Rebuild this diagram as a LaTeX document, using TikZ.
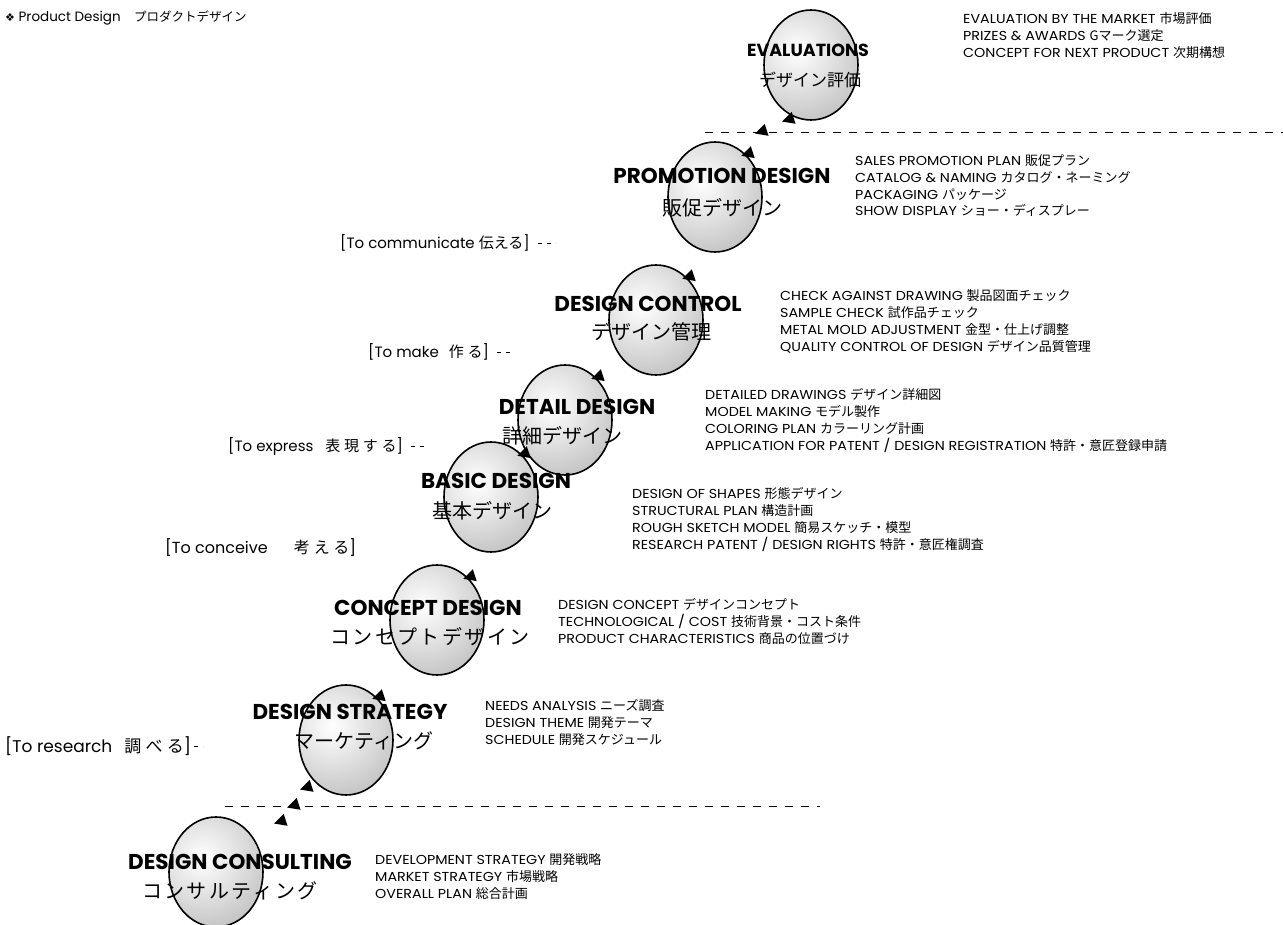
\documentclass[tikz,border=0pt]{standalone}
\usepackage{fontspec}
\setmainfont{Poppins}
\newfontfamily\jp{Noto Sans CJK JP}
\newfontfamily\jpw[LetterSpace=12]{Noto Sans CJK JP}
\newfontfamily\jpl[LetterSpace=25]{Noto Sans CJK JP}
\newfontfamily\lstfont[FakeStretch=1.1]{Poppins}
\newfontfamily\sym{DejaVu Sans}
\usetikzlibrary{shapes.geometric,calc}
\tikzset{
  stage/.style={ellipse, draw=black, line width=1.6pt, minimum width=94pt, minimum height=110pt, inner sep=0pt,
    path picture={\shade[inner color=white, outer color=black!40]
      ([xshift=-14pt,yshift=14pt]path picture bounding box.center) circle (125pt);}},
  ttl/.style={font=\bfseries\fontsize{21.5}{23}\selectfont, inner sep=0pt},
  jpt/.style={font=\jp\fontsize{20}{22}\selectfont, inner sep=0pt},
  lst/.style={font=\lstfont\fontsize{13}{16.8}\selectfont, align=left, anchor=north west, inner sep=0pt},
  lbl/.style={font=\fontsize{15}{17}\selectfont, anchor=west, inner sep=0pt},
  tri/.style={isosceles triangle, isosceles triangle apex angle=55, fill=black, minimum size=12pt, inner sep=0pt, rotate=198},
  sep/.style={line width=1pt, dash pattern=on 8pt off 8pt},
  lead/.style={line width=0.8pt, dash pattern=on 4pt off 5pt},
}
\begin{document}
\begin{tikzpicture}[x=1pt,y=-1pt]
\useasboundingbox (0,0) rectangle (1283,925);
\fill[white] (0,0) rectangle (1283,925);

% title
\node[anchor=west, inner sep=0pt, font=\fontsize{13.5}{15}\selectfont] (title) at (5,18)
  {{\sym\fontsize{11}{13}\selectfont ❖} Product Design\quad{\jp\fontsize{12.5}{13}\selectfont プロダクトデザイン}};

% separator lines
\coordinate (u1) at (705,133); \coordinate (u2) at (1283,133);
\coordinate (l1) at (225,806); \coordinate (l2) at (820,806);
\draw[sep] (u1) -- (u2);
\draw[sep] (l1) -- (l2);

% stages
\node[stage] (cons) at (216,872) {};
\node[stage] (strat) at (346,740) {};
\node[stage] (conc) at (437,620) {};
\node[stage] (basic) at (491,497) {};
\node[stage] (detail) at (565,420) {};
\node[stage] (ctrl) at (656,320) {};
\node[stage] (promo) at (715,197) {};
\node[stage] (eval) at (811,65) {};

% titles
\node[ttl] (consT) at (240,862) {DESIGN CONSULTING};
\node[jpt, font=\jpw\fontsize{20}{22}\selectfont] (consJ) at (230,891) {コンサルティング};
\node[ttl] (stratT) at (350,712) {DESIGN STRATEGY};
\node[jpt] (stratJ) at (364,741) {マーケティング};
\node[ttl] (concT) at (428,608) {CONCEPT DESIGN};
\node[jpt, font=\jpw\fontsize{20}{22}\selectfont] (concJ) at (430,637) {コンセプトデザイン};
\node[ttl] (basicT) at (496,481) {BASIC DESIGN};
\node[jpt] (basicJ) at (492,511) {基本デザイン};
\node[ttl] (detailT) at (577,407) {DETAIL DESIGN};
\node[jpt] (detailJ) at (562,436) {詳細デザイン};
\node[ttl] (ctrlT) at (648,304) {DESIGN CONTROL};
\node[jpt] (ctrlJ) at (651,332) {デザイン管理};
\node[ttl] (promoT) at (722,176) {PROMOTION DESIGN};
\node[jpt] (promoJ) at (722,208) {販促デザイン};
\node[ttl, font=\bfseries\fontsize{17.5}{19}\selectfont] (evalT) at (808,50) {EVALUATIONS};
\node[jpt, font=\jp\fontsize{17}{18}\selectfont] (evalJ) at (810,80) {デザイン評価};

% lists
\node[lst] (evalL) at (963,12.5) {EVALUATION BY THE MARKET {\jp 市場評価}\\PRIZES \& AWARDS {\jp Gマーク選定}\\CONCEPT FOR NEXT PRODUCT {\jp 次期構想}};
\node[lst] (promoL) at (855,154.5) {SALES PROMOTION PLAN {\jp 販促プラン}\\CATALOG \& NAMING {\jp カタログ・ネーミング}\\PACKAGING {\jp パッケージ}\\SHOW DISPLAY {\jp ショー・ディスプレー}};
\node[lst] (ctrlL) at (780,289.5) {CHECK AGAINST DRAWING {\jp 製品図面チェック}\\SAMPLE CHECK {\jp 試作品チェック}\\METAL MOLD ADJUSTMENT {\jp 金型・仕上げ調整}\\QUALITY CONTROL OF DESIGN {\jp デザイン品質管理}};
\node[lst] (detailL) at (705,388.5) {DETAILED DRAWINGS {\jp デザイン詳細図}\\MODEL MAKING {\jp モデル製作}\\COLORING PLAN {\jp カラーリング計画}\\APPLICATION FOR PATENT / DESIGN REGISTRATION {\jp 特許・意匠登録申請}};
\node[lst] (basicL) at (632,487.5) {DESIGN OF SHAPES {\jp 形態デザイン}\\STRUCTURAL PLAN {\jp 構造計画}\\ROUGH SKETCH MODEL {\jp 簡易スケッチ・模型}\\RESEARCH PATENT / DESIGN RIGHTS {\jp 特許・意匠権調査}};
\node[lst] (concL) at (558,598.5) {DESIGN CONCEPT {\jp デザインコンセプト}\\TECHNOLOGICAL / COST {\jp 技術背景・コスト条件}\\PRODUCT CHARACTERISTICS {\jp 商品の位置づけ}};
\node[lst] (stratL) at (485,699.5) {NEEDS ANALYSIS {\jp ニーズ調査}\\DESIGN THEME {\jp 開発テーマ}\\SCHEDULE {\jp 開発スケジュール}};
\node[lst] (consL) at (375,853.5) {DEVELOPMENT STRATEGY {\jp 開発戦略}\\MARKET STRATEGY {\jp 市場戦略}\\OVERALL PLAN {\jp 総合計画}};

% left labels
\node[lbl] (lab1) at (340,243) {[To communicate\hspace{4pt}{\jp 伝える}]};
\node[lbl] (lab2) at (368,352) {[To make\hspace{10pt}{\jpl 作る}]};
\node[lbl] (lab3) at (228,446) {[To express\hspace{12pt}{\jpl 表現する}]};
\node[lbl, font=\fontsize{16}{18}\selectfont] (lab4) at (165,548) {[To conceive\hspace{26pt}{\jpl 考える}]};
\node[lbl, font=\fontsize{17}{19}\selectfont] (lab5) at (5,746) {[To research\hspace{12pt}{\jpl 調べる}]};
\coordinate (e1) at ($(lab1.east)+(26,0)$);
\coordinate (e2) at ($(lab2.east)+(22,0)$);
\coordinate (e3) at ($(lab3.east)+(24,0)$);
\coordinate (e5) at ($(lab5.east)+(12,0)$);
\draw[lead] ($(lab1.east)+(8,0)$) -- (e1);
\draw[lead] ($(lab2.east)+(8,0)$) -- (e2);
\draw[lead] ($(lab3.east)+(8,0)$) -- (e3);
\draw[lead] ($(lab5.east)+(3,0)$) -- (e5);

% arrow heads
\node[tri] (t1) at (282,821) {};
\node[tri] (t1b) at (295,805) {};
\node[tri] (t1c) at (308,787) {};
\node[tri] (t2) at ($(strat.center)!1.06!(strat.52)$) {};
\node[tri] (t3) at ($(conc.center)!1.06!(conc.52)$) {};
\node[tri] (t4) at ($(basic.center)!1.06!(basic.52)$) {};
\node[tri] (t5) at ($(detail.center)!1.06!(detail.52)$) {};
\node[tri] (t6) at ($(ctrl.center)!1.06!(ctrl.52)$) {};
\node[tri] (t7) at ($(promo.center)!1.06!(promo.52)$) {};
\node[tri] (t7b) at (763,131) {};
\node[tri] (t7c) at (790,119) {};
\end{tikzpicture}
\end{document}
